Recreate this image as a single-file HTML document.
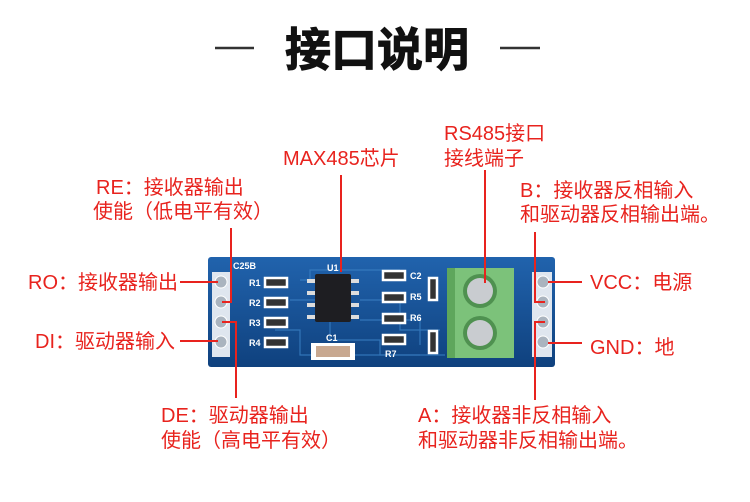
<!DOCTYPE html>
<html><head><meta charset="utf-8"><style>
html,body{margin:0;padding:0;background:#fff}
svg{display:block}
.t{font-family:"Liberation Sans","Noto Sans CJK SC",sans-serif;font-size:20px;fill:#e8231e}
.h{font-family:"Liberation Sans","Noto Sans CJK SC",sans-serif;font-size:46px;font-weight:bold;fill:#111;stroke:#111;stroke-width:1}
.s{font-family:"Liberation Sans",sans-serif;font-size:9px;fill:#fff;font-weight:bold}
</style></head><body>
<svg width="750" height="502" viewBox="0 0 750 502" xmlns="http://www.w3.org/2000/svg">
<line x1="215" y1="48" x2="254" y2="48" stroke="#333" stroke-width="2.5"/>
<line x1="500" y1="48" x2="540" y2="48" stroke="#333" stroke-width="2.5"/>
<text class="h" x="377" y="66" text-anchor="middle">接口说明</text>

<defs><linearGradient id="bg" x1="0" y1="0" x2="0" y2="1"><stop offset="0" stop-color="#2163ad"/><stop offset="1" stop-color="#0f417e"/></linearGradient></defs>
<rect x="208" y="257" width="347" height="110" rx="3" fill="url(#bg)"/>
<g stroke="#3a80c4" stroke-width="1.2" fill="none" opacity="0.8">
<path d="M290 300 H330 V340 H380 V355 H445"/><path d="M300 280 H310 V270 H400"/><path d="M360 300 H400 V330 H440"/><path d="M275 330 H300 V355 H420"/><path d="M360 320 H420 V345"/>
</g>
<text class="s" x="233" y="269" font-size="12">C25B</text>
<rect x="212" y="272" width="18" height="85" fill="#dfe6ef"/>
<rect x="532" y="272" width="20" height="85" fill="#dfe6ef"/>
<g fill="#aab4bf" stroke="#fff" stroke-width="1">
<circle cx="221" cy="282" r="6"/><circle cx="221" cy="302" r="6"/><circle cx="221" cy="322" r="6"/><circle cx="221" cy="342" r="6"/>
<circle cx="543" cy="282" r="6"/><circle cx="543" cy="302" r="6"/><circle cx="543" cy="322" r="6"/><circle cx="543" cy="342" r="6"/>
</g>
<g fill="#333" stroke="#fff" stroke-width="2.5"><rect x="265" y="278" width="22" height="9"/><rect x="265" y="298" width="22" height="9"/><rect x="265" y="318" width="22" height="9"/><rect x="265" y="338" width="22" height="9"/>
<rect x="383" y="271" width="22" height="9"/><rect x="383" y="293" width="22" height="9"/><rect x="383" y="314" width="22" height="9"/><rect x="383" y="335" width="22" height="9"/>
<rect x="429" y="278" width="8" height="22"/><rect x="429" y="331" width="8" height="22"/></g>
<rect x="311" y="343" width="44" height="17" fill="#fff"/>
<rect x="316" y="346" width="34" height="11" fill="#c8a890"/>
<text class="s" x="249" y="286">R1</text><text class="s" x="249" y="306">R2</text><text class="s" x="249" y="326">R3</text><text class="s" x="249" y="346">R4</text>
<text class="s" x="410" y="279">C2</text><text class="s" x="410" y="300">R5</text><text class="s" x="410" y="321">R6</text><text class="s" x="385" y="357">R7</text>
<text class="s" x="326" y="341" font-size="12">C1</text><text class="s" x="327" y="271" font-size="8">U1</text>
<g fill="#ddd"><rect x="307" y="279" width="8" height="4"/><rect x="307" y="291" width="8" height="4"/><rect x="307" y="303" width="8" height="4"/><rect x="307" y="315" width="8" height="4"/>
<rect x="351" y="279" width="8" height="4"/><rect x="351" y="291" width="8" height="4"/><rect x="351" y="303" width="8" height="4"/><rect x="351" y="315" width="8" height="4"/></g>
<rect x="315" y="274" width="36" height="48" rx="2" fill="#1e1e22"/>
<rect x="447" y="268" width="67" height="90" fill="#7cc27a"/>
<rect x="447" y="268" width="8" height="90" fill="#5ea65c"/>
<circle cx="480" cy="291" r="17" fill="#4f9150"/><circle cx="480" cy="291" r="13" fill="#c9ccd0"/>
<circle cx="480" cy="333" r="17" fill="#4f9150"/><circle cx="480" cy="333" r="13" fill="#c9ccd0"/>
<g stroke="#e8231e" stroke-width="2" fill="none">
<path d="M180 282 H218"/><path d="M180 341 H218"/>
<path d="M231 228 V302 H222"/><path d="M236 398 V322 H222"/>
<path d="M341 175 V272"/><path d="M485 170 V283"/>
<path d="M535 232 V302 H545"/><path d="M535 400 V322 H545"/>
<path d="M548 282 H582"/><path d="M548 343 H582"/>
</g>
<text class="t" x="96" y="194">RE：接收器输出</text>
<text class="t" x="93" y="218">使能（低电平有效）</text>
<text class="t" x="283" y="165">MAX485芯片</text>
<text class="t" x="444" y="140">RS485接口</text>
<text class="t" x="444" y="165">接线端子</text>
<text class="t" x="520" y="197">B：接收器反相输入</text>
<text class="t" x="520" y="221">和驱动器反相输出端。</text>
<text class="t" x="28" y="289">RO：接收器输出</text>
<text class="t" x="35" y="348">DI：驱动器输入</text>
<text class="t" x="590" y="289">VCC：电源</text>
<text class="t" x="590" y="354">GND：地</text>
<text class="t" x="161" y="422">DE：驱动器输出</text>
<text class="t" x="161" y="447">使能（高电平有效）</text>
<text class="t" x="418" y="422">A：接收器非反相输入</text>
<text class="t" x="418" y="447">和驱动器非反相输出端。</text>
</svg>
</body></html>
